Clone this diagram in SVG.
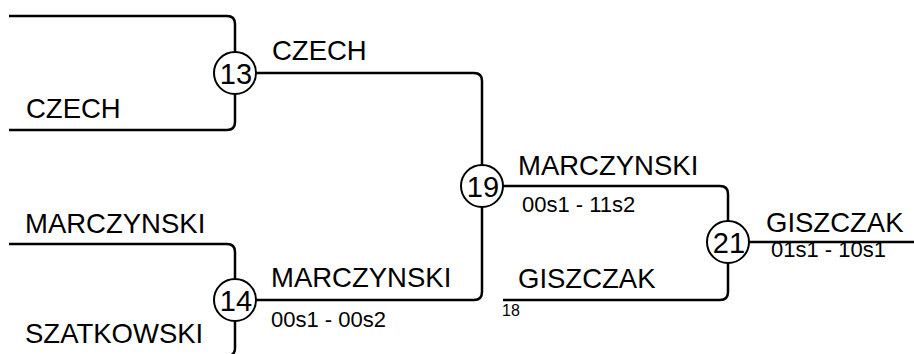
<svg xmlns="http://www.w3.org/2000/svg" width="914" height="354" viewBox="0 0 914 354">
<style>
.ln{fill:none;stroke:#000;stroke-width:2.5;stroke-linecap:butt}
.nd circle{fill:#fff;stroke:#000;stroke-width:2}
.num{font-family:"Liberation Sans",Arial,sans-serif;font-size:29px;text-anchor:middle;fill:#000}
.nm{font-family:"Liberation Sans",Arial,sans-serif;font-size:27.5px;fill:#000}
.sc{font-family:"Liberation Sans",Arial,sans-serif;font-size:22px;fill:#000}
.sm{font-family:"Liberation Sans",Arial,sans-serif;font-size:16px;fill:#000}
</style>
<rect width="914" height="354" fill="#fff"/>
<g id="connectors">
<path class="ln" d="M9,16 H227 Q235,16 235,24 V52"/>
<path class="ln" d="M9,130 H227 Q235,130 235,122 V94"/>
<path class="ln" d="M256,73 H474 Q482,73 482,81 V165"/>
<path class="ln" d="M9,244 H227 Q235,244 235,252 V279"/>
<path class="ln" d="M235,321 V348 Q235,356 227,356 H9"/>
<path class="ln" d="M256,300 H474 Q482,300 482,292 V207"/>
<path class="ln" d="M503,186 H720 Q728,186 728,194 V221"/>
<path class="ln" d="M503,300 H720 Q728,300 728,292 V263"/>
<path class="ln" d="M749,242 H914"/>
</g>
<g id="labels">
<text class="nm" x="26" y="118">CZECH</text>
<text class="nm" x="272" y="60">CZECH</text>
<text class="nm" x="25" y="233">MARCZYNSKI</text>
<text class="nm" x="25" y="343">SZATKOWSKI</text>
<text class="nm" x="271" y="287">MARCZYNSKI</text>
<text class="sc" x="271" y="327">00s1 - 00s2</text>
<text class="nm" x="518" y="175">MARCZYNSKI</text>
<text class="sc" x="522" y="212">00s1 - 11s2</text>
<text class="nm" x="518" y="288">GISZCZAK</text>
<text class="sm" x="502" y="316">18</text>
<text class="nm" x="766" y="232">GISZCZAK</text>
<text class="sc" x="771" y="257">01s1 - 10s1</text>
</g>
<g id="node13" class="nd"><circle cx="235" cy="73" r="21"/><text class="num" x="236" y="84">13</text></g>
<g id="node14" class="nd"><circle cx="235" cy="300" r="21"/><text class="num" x="236" y="311">14</text></g>
<g id="node19" class="nd"><circle cx="482" cy="186" r="21"/><text class="num" x="483" y="197">19</text></g>
<g id="node21" class="nd"><circle cx="728" cy="242" r="21"/><text class="num" x="729" y="253">21</text></g>
</svg>
